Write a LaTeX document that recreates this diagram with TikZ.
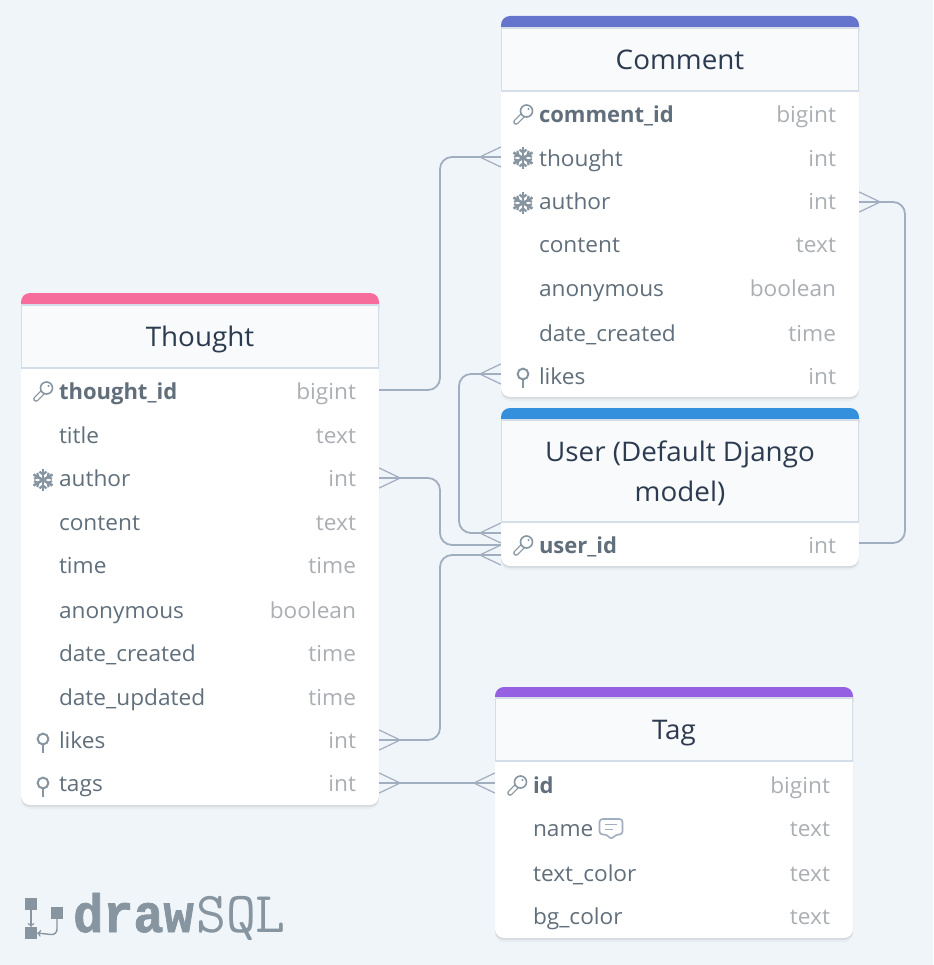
\documentclass[tikz,border=0pt]{standalone}
\usepackage{fontspec}
\setmainfont{Open Sans}[FakeStretch=1.03, BoldFeatures={FakeStretch=1.0}]
\newfontfamily\logobold{Liberation Mono}[FakeStretch=.93, BoldFont={Liberation Mono Bold}, BoldFeatures={FakeBold=1.4, FakeStretch=.93}]
\usetikzlibrary{shadows}
\definecolor{bgcolor}{HTML}{F0F5F9}
\definecolor{bandindigo}{HTML}{6574CD}
\definecolor{bandblue}{HTML}{3490DC}
\definecolor{bandpink}{HTML}{F66D9B}
\definecolor{bandpurple}{HTML}{9561E2}
\definecolor{headfill}{HTML}{F8FAFC}
\definecolor{headline}{HTML}{D5DEE8}
\definecolor{titlecolor}{HTML}{2D3B50}
\definecolor{namecolor}{HTML}{606F7B}
\definecolor{typecolor}{HTML}{ABAFB3}
\definecolor{linecolor}{HTML}{A0AEC0}
\definecolor{iconcolor}{HTML}{8795A1}
\newcommand{\fieldtype}[1]{\hfill\textcolor{typecolor}{#1}}
\newcommand{\headstrut}{\rule[-6pt]{0pt}{32pt}}
\tikzset{
	card/.style = {rectangle, fill=white, rounded corners=9pt, minimum width=358pt, inner sep=0pt,
		general shadow={shadow yshift=-1pt, fill=black, opacity=.05},
		general shadow={shadow yshift=-2pt, fill=black, opacity=.05},
		general shadow={shadow yshift=-4pt, fill=black, opacity=.03}},
	bandbox/.style = {rectangle, rounded corners=9pt, minimum width=358pt, minimum height=24pt, inner sep=0pt},
	headbox/.style = {rectangle, fill=headfill, draw=headline, line width=1.2pt, minimum width=357pt, inner sep=0pt,
		text=titlecolor, font=\fontsize{27}{40}\selectfont, align=center},
	rowbox/.style = {rectangle, inner xsep=23pt, inner ysep=0pt, text width=312pt, text height=20pt, text depth=4pt,
		text=namecolor, font=\fontsize{22}{24}\selectfont},
	relline/.style = {draw=linecolor, line width=1.8pt, rounded corners=12pt},
	crowline/.style = {draw=linecolor, line width=1.2pt},
	iconline/.style = {draw=iconcolor, line width=1.4pt},
	crowleft/.pic = {\draw[crowline] (0,-10) -- (-21,0) -- (0,10);},
	crowright/.pic = {\draw[crowline] (0,-10) -- (21,0) -- (0,10);},
	pinicon/.pic = {
		\draw[iconline, line width=2pt] (0,-2) circle (5.4pt);
		\draw[iconline, line width=2pt] (0,3) -- (0,12);},
	keyicon/.pic = {
		\draw[iconline, line width=1.3pt, double=white, double distance=3pt, line cap=round] (-7,8) -- (2,-1);
		\draw[iconline, line width=1.6pt, fill=white] (3.5,-3) circle (6pt);
		\fill[iconcolor] (5.5,-5) circle (1.2pt);},
	snowicon/.pic = {
		\foreach \a in {30,90,150,210,270,330} {
			\draw[iconline, line width=2.6pt] (0,0) -- (\a:11pt);
			\draw[iconline, line width=2.2pt] (\a:5.5pt) ++(\a+50:4.5pt) -- (\a:5.5pt) -- ++(\a-50:4.5pt);
		}},
	noteicon/.pic = {
		\draw[draw=linecolor, line width=1.6pt, rounded corners=3pt, line join=round]
			(-11.5,-9) -- (11.5,-9) -- (11.5,6.5) -- (5,6.5) -- (0,11.5) -- (-4,6.5) -- (-11.5,6.5) -- cycle;
		\draw[draw=linecolor, line width=1.5pt] (-6,-3.5) -- (6,-3.5) (-6,1.5) -- (2,1.5);},
}
\begin{document}
\begin{tikzpicture}[x=1pt, y=-1pt]
	\fill[bgcolor] (0,0) rectangle (933,965);
	\useasboundingbox (0,0) rectangle (933,965);

	% Comment
	\node[card, minimum height=381pt] (comment) at (680, 206.5) {};
	\node[bandbox, fill=bandindigo] (comment_band) at (680, 28) {};
	\node[headbox, minimum height=63pt] (comment_head) at (680, 59.5) {\headstrut Comment};
	\node[rowbox] (c_id) at (680, 114.5) {\hspace*{15pt}\textbf{comment\_id}\fieldtype{bigint}};
	\node[rowbox] (c_thought) at (680, 158.5) {\hspace*{15pt}thought\fieldtype{int}};
	\node[rowbox] (c_author) at (680, 201.5) {\hspace*{15pt}author\fieldtype{int}};
	\node[rowbox] (c_content) at (680, 244.5) {\hspace*{15pt}content\fieldtype{text}};
	\node[rowbox] (c_anon) at (680, 288) {\hspace*{15pt}anonymous\fieldtype{boolean}};
	\node[rowbox] (c_date) at (680, 333) {\hspace*{15pt}date\_created\fieldtype{time}};
	\node[rowbox] (c_likes) at (680, 376) {\hspace*{15pt}likes\fieldtype{int}};
	\pic at (523, 114) {keyicon};
	\pic at (523, 158) {snowicon};
	\pic at (523, 203) {snowicon};
	\pic at (523, 376) {pinicon};

	% User
	\node[card, minimum height=158pt] (user) at (680, 487) {};
	\node[bandbox, fill=bandblue] (user_band) at (680, 420) {};
	\node[headbox, minimum height=102pt] (user_head) at (680, 471) {\headstrut User (Default Django\\\headstrut model)};
	\node[rowbox] (u_id) at (680, 545) {\hspace*{15pt}\textbf{user\_id}\fieldtype{int}};
	\pic at (523, 545) {keyicon};

	% Thought
	\node[card, minimum height=512pt] (thought) at (200, 549) {};
	\node[bandbox, fill=bandpink] (thought_band) at (200, 305) {};
	\node[headbox, minimum height=63pt] (thought_head) at (200, 336.5) {\headstrut Thought};
	\node[rowbox] (t_id) at (200, 391) {\hspace*{15pt}\textbf{thought\_id}\fieldtype{bigint}};
	\node[rowbox] (t_title) at (200, 435) {\hspace*{15pt}title\fieldtype{text}};
	\node[rowbox] (t_author) at (200, 478) {\hspace*{15pt}author\fieldtype{int}};
	\node[rowbox] (t_content) at (200, 522) {\hspace*{15pt}content\fieldtype{text}};
	\node[rowbox] (t_time) at (200, 565) {\hspace*{15pt}time\fieldtype{time}};
	\node[rowbox] (t_anon) at (200, 610) {\hspace*{15pt}anonymous\fieldtype{boolean}};
	\node[rowbox] (t_created) at (200, 653) {\hspace*{15pt}date\_created\fieldtype{time}};
	\node[rowbox] (t_updated) at (200, 697) {\hspace*{15pt}date\_updated\fieldtype{time}};
	\node[rowbox] (t_likes) at (200, 740) {\hspace*{15pt}likes\fieldtype{int}};
	\node[rowbox] (t_tags) at (200, 783) {\hspace*{15pt}tags\fieldtype{int}};
	\pic at (43, 391) {keyicon};
	\pic at (43, 480) {snowicon};
	\pic at (43, 741) {pinicon};
	\pic at (43, 785) {pinicon};

	% Tag
	\node[card, minimum height=251pt] (tag) at (674, 812.5) {};
	\node[bandbox, fill=bandpurple] (tag_band) at (674, 699) {};
	\node[headbox, minimum height=63pt] (tag_head) at (674, 729.5) {\headstrut Tag};
	\node[rowbox] (g_id) at (674, 785) {\hspace*{15pt}\textbf{id}\fieldtype{bigint}};
	\node[rowbox] (g_name) at (674, 828) {\hspace*{15pt}name\fieldtype{text}};
	\node[rowbox] (g_text) at (674, 873) {\hspace*{15pt}text\_color\fieldtype{text}};
	\node[rowbox] (g_bg) at (674, 916) {\hspace*{15pt}bg\_color\fieldtype{text}};
	\pic at (517, 785) {keyicon};
	\pic at (611, 828) {noteicon};

	% connectors
	\coordinate (trunk_a) at (440, 0);
	\coordinate (trunk_b) at (459, 0);
	\coordinate (trunk_c) at (905, 0);
	\coordinate (t_id_port) at ([yshift=1pt]t_id.east);
	\coordinate (c_thought_port) at ([yshift=1.5pt]c_thought.west);
	\coordinate (c_author_port) at ([yshift=-.5pt]c_author.east);
	\coordinate (c_likes_port) at ([yshift=2pt]c_likes.west);
	\coordinate (u_top_port) at ([yshift=12pt]u_id.west);
	\coordinate (u_mid_port) at (u_id.west);
	\coordinate (u_low_port) at ([yshift=-10pt]u_id.west);
	\coordinate (u_right_port) at ([yshift=2pt]u_id.east);
	\coordinate (g_id_port) at ([yshift=2pt]g_id.west);
	\coordinate (t_tags_port) at (t_tags.east);

	\draw[relline] (t_id_port) -- (t_id_port -| trunk_a) -- (c_thought_port -| trunk_a) -- (c_thought_port);
	\draw[relline] (t_author.east) -- (t_author.east -| trunk_a) -- (u_mid_port -| trunk_a) -- (u_mid_port);
	\draw[relline] (t_likes.east) -- (t_likes.east -| trunk_a) -- (u_low_port -| trunk_a) -- (u_low_port);
	\draw[relline] (c_likes_port) -- (c_likes_port -| trunk_b) -- (u_top_port -| trunk_b) -- (u_top_port);
	\draw[relline] (c_author_port) -- (c_author_port -| trunk_c) -- (u_right_port -| trunk_c) -- (u_right_port);
	\draw[relline] (t_tags_port) -- (g_id_port);

	\pic at (c_thought_port) {crowleft};
	\pic at (c_likes_port) {crowleft};
	\pic at (u_top_port) {crowleft};
	\pic at (u_low_port) {crowleft};
	\pic at (g_id_port) {crowleft};
	\pic at (t_author.east) {crowright};
	\pic at (t_likes.east) {crowright};
	\pic at (t_tags_port) {crowright};
	\pic at (c_author_port) {crowright};

	% logo
	\node[rectangle, fill=iconcolor, minimum size=12pt, inner sep=0pt] (logo_a) at (31, 904) {};
	\node[rectangle, fill=iconcolor, minimum size=12pt, inner sep=0pt] (logo_b) at (31, 933) {};
	\node[rectangle, fill=iconcolor, minimum size=12pt, inner sep=0pt] (logo_c) at (57, 913) {};
	\draw[->, iconline] (logo_a) -- (logo_b);
	\draw[->, iconline, rounded corners=6pt] (logo_c.south) -- ++(0, 16) -- (logo_b.east);
	\node[anchor=base west, inner sep=0pt, text=iconcolor, font=\fontsize{54}{54}\selectfont\logobold\bfseries] (logo_draw)
		at (73, 932) {draw};
	\node[anchor=base west, inner sep=0pt, text=iconcolor, font=\fontsize{58}{58}\selectfont\ttfamily] (logo_sql)
		at (196, 932) {SQL};
\end{tikzpicture}
\end{document}
